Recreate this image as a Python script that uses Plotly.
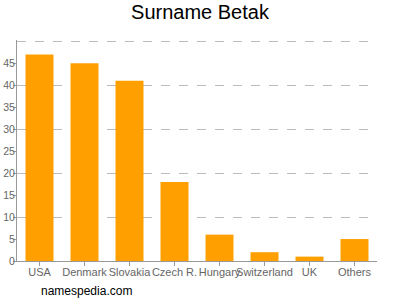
import plotly.graph_objects as go

categories = ["USA", "Denmark", "Slovakia", "Czech R.", "Hungary", "Switzerland", "UK", "Others"]
values = [47, 45, 41, 18, 6, 2, 1, 5]
label_ticks = [0, 5, 10, 15, 20, 25, 30, 35, 40, 45]
grid_ticks = [10, 20, 30, 40, 50]

font = "Liberation Sans, Arial, sans-serif"

fig = go.Figure()
fig.add_trace(go.Bar(x=categories, y=values, marker=dict(color="#FFA000", line=dict(width=0)),
                     yaxis="y", hoverinfo="skip"))
# invisible helper so the label axis (y2) is drawn
fig.add_trace(go.Scatter(x=categories, y=values, mode="markers", marker=dict(opacity=0),
                         yaxis="y2", hoverinfo="skip"))

fig.update_layout(
    width=400, height=300,
    margin=dict(l=17, r=23, t=40, b=39, autoexpand=False),
    paper_bgcolor="white", plot_bgcolor="white",
    bargap=0.378,
    showlegend=False,
    title=dict(text="Surname Betak", x=0.5, xanchor="center", y=0.985, yanchor="top",
               font=dict(family=font, size=20, color="#000")),
    xaxis=dict(showline=True, linecolor="#999", linewidth=1, ticks="outside", ticklen=4,
               tickcolor="#999", tickangle=0, showgrid=False, automargin=False,
               ticklabelstandoff=-3,
               tickfont=dict(family=font, size=11, color="#666")),
    yaxis=dict(range=[0, 50.3], tickvals=grid_ticks, showgrid=True, griddash="dash",
               gridcolor="#bbb", gridwidth=1, showticklabels=False, zeroline=False,
               showline=False, ticks="", automargin=False),
    yaxis2=dict(overlaying="y", range=[0, 50.3], side="left", tickvals=label_ticks,
                ticks="outside", ticklen=3, tickcolor="#999", showline=True, linecolor="#999",
                linewidth=1, showgrid=False, zeroline=False, automargin=False,
                ticklabelstandoff=-4,
                tickfont=dict(family=font, size=10.5, color="#666")),
    annotations=[dict(text="namespedia.com", xref="paper", yref="paper", x=0.061, y=-0.136,
                      xanchor="left", yanchor="middle", showarrow=False,
                      font=dict(family=font, size=12, color="#000"))],
)

fig.write_html("out.html")
